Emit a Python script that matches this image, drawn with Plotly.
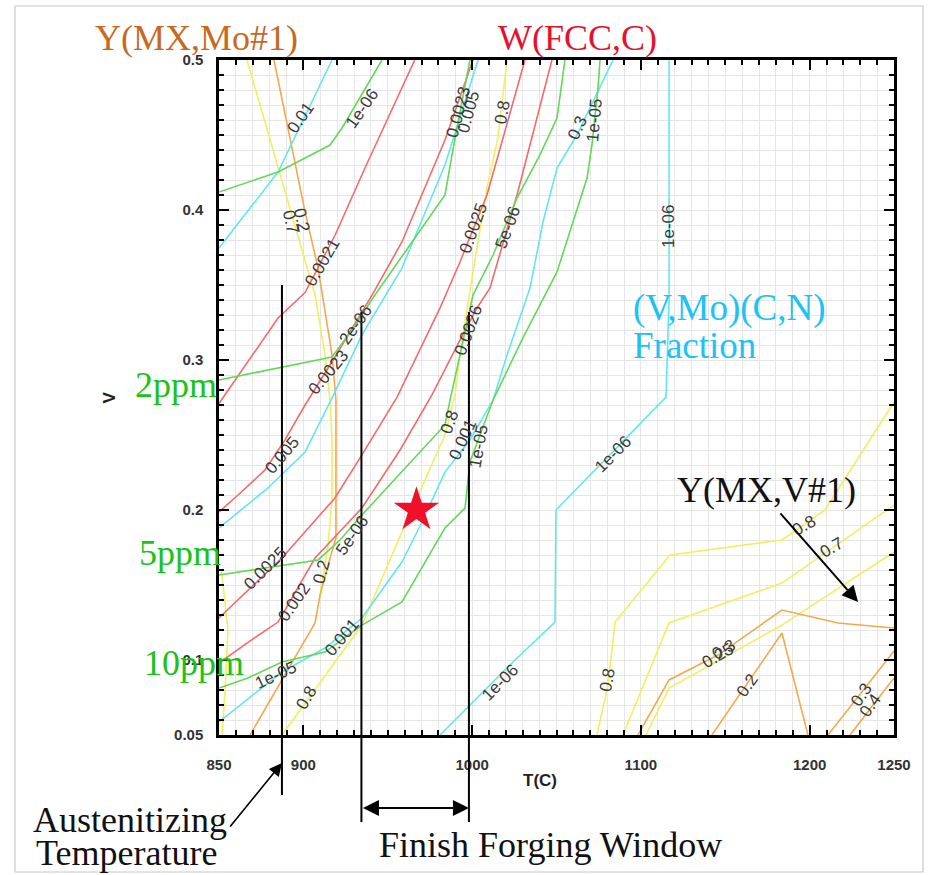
import plotly.graph_objects as go

# ---------------- data (T in C, V fraction) ----------------
red_lines = {
    "R1": ([966.0, 936.5, 918.7, 901.0, 885.0, 850.0],
           [0.500, 0.428, 0.383, 0.345, 0.328, 0.271]),
    "R2": ([1000.5, 983.9, 958.4, 940.7, 918.7, 901.0, 889.1, 877.3, 861.3, 850.0],
           [0.500, 0.4467, 0.3787, 0.3433, 0.302, 0.270, 0.2467, 0.2267, 0.210, 0.1987]),
    "R3": ([1031.3, 1008.8, 992.8, 981.0, 955.5, 934.7, 918.7, 887.3, 851.8, 850.0],
           [0.500, 0.410, 0.3653, 0.3347, 0.2753, 0.2367, 0.208, 0.168, 0.130, 0.128]),
    "R4": ([1047.3, 1026.6, 1010.6, 1002.9, 992.8, 976.2, 957.3, 934.7, 906.9, 885.0, 866.6, 850.0],
           [0.500, 0.410, 0.348, 0.3347, 0.3133, 0.2767, 0.240, 0.2013, 0.168, 0.1253, 0.1113, 0.098]),
}
cyan_lines = {
    "C1": ([917.0, 885.0, 850.0], [0.500, 0.4253, 0.3747]),
    "C2": ([1003.5, 983.9, 958.4, 934.7, 917.0, 901.0, 879.0, 861.3, 850.0],
           [0.500, 0.430, 0.3613, 0.3167, 0.2747, 0.2387, 0.2147, 0.1987, 0.188]),
    "C3": ([1083.5, 1062.1, 1050.3, 1042.0, 1034.3, 1020.7, 1012.4, 998.7, 983.9, 970.3, 958.4, 934.7, 912.8, 887.3, 850.0],
           [0.500, 0.450, 0.428, 0.392, 0.348, 0.3033, 0.2733, 0.2467, 0.2253, 0.192, 0.1653, 0.128, 0.108, 0.092, 0.0587]),
    "C4": ([1116.7, 1116.7, 1114.9, 1049.7, 1049.1, 1024.2, 981.0],
           [0.500, 0.340, 0.2753, 0.200, 0.1253, 0.0987, 0.050]),
}
green_lines = {
    "G1": ([946.6, 922.9, 915.8, 885.0, 850.0], [0.500, 0.4547, 0.4433, 0.4253, 0.412]),
    "G2": ([850.0, 917.0, 928.8, 942.4, 983.9, 989.9, 998.7],
           [0.2867, 0.302, 0.320, 0.3433, 0.410, 0.448, 0.500]),
    "G3": ([850.0, 908.7, 921.7, 934.7, 983.9, 986.9, 992.8, 1000.5, 1012.4, 1026.6, 1040.2, 1050.3, 1055.0],
           [0.1567, 0.1667, 0.180, 0.1967, 0.2567, 0.2733, 0.3033, 0.3433, 0.370, 0.408, 0.4367, 0.4613, 0.500]),
    "G4": ([1075.8, 1074.6, 1071.0, 1068.1, 1050.3, 1030.1, 1012.4, 998.7, 995.8, 983.9, 958.4, 934.7, 912.8, 887.3, 867.2, 850.0],
           [0.500, 0.4813, 0.4433, 0.4213, 0.3587, 0.3147, 0.2733, 0.232, 0.2013, 0.188, 0.1387, 0.1233, 0.1053, 0.0987, 0.088, 0.0813]),
}
yellow_lines = {
    "Y1": ([866.6, 893.3, 906.9, 912.8, 915.8, 917.0, 917.0, 914.6, 909.9],
           [0.500, 0.3967, 0.3433, 0.3033, 0.2733, 0.2467, 0.2067, 0.1767, 0.1433]),
    "Y2": ([851.2, 852.4, 855.3, 853.6, 851.8], [0.160, 0.150, 0.120, 0.080, 0.050]),
    "Y3": ([1020.7, 1015.3, 1008.8, 1000.5, 992.8, 989.9, 983.9, 962.0, 934.7, 887.3],
           [0.500, 0.448, 0.4147, 0.3587, 0.3033, 0.2767, 0.250, 0.1947, 0.1233, 0.050]),
    "Y4": ([1074.0, 1080.5, 1084.7, 1117.3, 1183.6, 1209.1, 1250.0],
           [0.050, 0.0833, 0.1253, 0.170, 0.180, 0.200, 0.272]),
    "Y5": ([1089.4, 1116.7, 1183.6, 1201.4, 1250.0], [0.050, 0.1247, 0.1513, 0.1653, 0.2033]),
    "Y6": ([1103.0, 1116.7, 1183.6, 1250.0], [0.050, 0.0813, 0.1233, 0.172]),
}
orange_lines = {
    "O1": ([882.6, 901.0, 908.7, 917.0, 919.3, 919.3, 915.8, 909.9, 906.9, 868.4],
           [0.500, 0.3987, 0.3613, 0.3033, 0.2733, 0.1813, 0.168, 0.1433, 0.1247, 0.050]),
    "O2": ([1098.3, 1116.7, 1145.7, 1183.6, 1216.8, 1250.0], [0.050, 0.0867, 0.1033, 0.1333, 0.1247, 0.1213]),
    "O3": ([1142.1, 1183.6, 1199.0], [0.050, 0.118, 0.050]),
    "O4": ([1210.9, 1250.0], [0.050, 0.106]),
    "O5": ([1223.9, 1250.0], [0.050, 0.088]),
}

label_text = ["0.01", "1e-06", "0.7", "0.2", "0.0021", "2e-06", "0.0023", "0.005", "0.0025",
              "0.002", "0.2", "5e-06", "0.001", "1e-05", "0.8", "0.0023", "0.005", "0.8", "0.3",
              "1e-05", "0.0025", "5e-06", "0.0026", "0.8", "0.001", "1e-05", "1e-06", "1e-06",
              "1e-06", "0.8", "0.25", "0.3", "0.2", "0.3", "0.4", "0.8", "0.7"]
label_T = [898.0, 934.7, 892.7, 899.2, 911.0, 930.6, 914.6, 887.9, 877.3,
           895.0, 911.0, 928.8, 922.9, 883.2, 902.1, 991.6, 997.6, 1017.7, 1062.7,
           1072.2, 1000.5, 1020.7, 997.6, 986.9, 994.6, 1003.5, 1116.7, 1083.5,
           1016.5, 1080.5, 1145.7, 1149.3, 1162.9, 1231.0, 1235.8, 1196.7, 1213.3]
label_V = [0.4613, 0.468, 0.392, 0.3933, 0.3653, 0.3233, 0.292, 0.2367, 0.1613,
           0.1387, 0.1587, 0.1833, 0.1147, 0.090, 0.0747, 0.4653, 0.4653, 0.4653, 0.4547,
           0.460, 0.388, 0.388, 0.320, 0.2587, 0.2467, 0.242, 0.3887, 0.2367,
           0.0853, 0.0867, 0.1033, 0.1067, 0.0833, 0.0767, 0.070, 0.190, 0.1747]
label_angle = [-55, -55, 78, 78, -60, -55, -50, -50, -45,
               -55, -75, -55, -50, -25, -60, -75, -75, -80, -65,
               -85, -70, -70, -70, -70, -65, -80, -90, -45,
               -45, -80, -30, -30, -55, -55, -55, -30, -30]

star_T = [967.0]
star_V = [0.200]

austenitizing_T = 887.3
forging_T = [934.4, 998.1]

x_tickvals = [850, 900, 1000, 1100, 1200, 1250]
y_tickvals = [0.05, 0.1, 0.2, 0.3, 0.4, 0.5]
y_ticktext = ["0.05", "0.1", "0.2", "0.3", "0.4", "0.5"]

# ---------------- figure ----------------
fig = go.Figure()

colors = {
    "red": "#f46a6a",
    "cyan": "#62e6f2",
    "green": "#62d85a",
    "yellow": "#f3ee5e",
    "orange": "#f2aa4c",
}
for group, col in [(yellow_lines, colors["yellow"]), (orange_lines, colors["orange"]),
                   (red_lines, colors["red"]), (cyan_lines, colors["cyan"]),
                   (green_lines, colors["green"])]:
    for name, (xs, ys) in group.items():
        fig.add_trace(go.Scatter(x=xs, y=ys, mode="lines", name=name,
                                 line=dict(color=col, width=1.6), hoverinfo="skip"))

fig.add_trace(go.Scatter(x=star_T, y=star_V, mode="markers",
                         marker=dict(symbol="star", size=34, color="#f0102a",
                                     line=dict(width=0)), hoverinfo="skip"))

annotations = []
for t, x, y, a in zip(label_text, label_T, label_V, label_angle):
    annotations.append(dict(x=x, y=y, xref="x", yref="y", text=t, showarrow=False,
                            textangle=a, font=dict(family="Liberation Sans", size=17, color="#3a3a3a")))

def P(px, py):
    return (px - 219) / 675.0, (735 - py) / 675.0

serif = "Liberation Serif"
def txt(text, px, py, color, size, anchor="center"):
    x, y = P(px, py)
    annotations.append(dict(x=x, y=y, xref="paper", yref="paper", text=text, showarrow=False,
                            xanchor=anchor, yanchor="middle",
                            font=dict(family=serif, size=size, color=color)))

txt("Y(MX,Mo#1)", 196, 38, "#c8691f", 36)
txt("W(FCC,C)", 577, 38, "#e8102e", 36)
txt("(V,Mo)(C,N)", 631, 308, "#1ec3f5", 37, "left")
txt("Fraction", 631, 345, "#1ec3f5", 37, "left")
txt("2ppm", 219, 385, "#19c319", 36, "right")
txt("5ppm", 223, 553, "#19c319", 36, "right")
txt("10ppm", 246, 663, "#19c319", 36, "right")
txt("Y(MX,V#1)", 675, 490, "#111111", 36, "left")
txt("Austenitizing", 31, 820, "#111111", 36, "left")
txt("Temperature", 34, 853, "#111111", 36, "left")
txt("Finish Forging Window", 377, 845, "#111111", 36, "left")

# axis titles
x, y = P(540, 792)
annotations.append(dict(x=x, y=y, xref="paper", yref="paper", text="<b>T(C)</b>", showarrow=False,
                        font=dict(family="Liberation Sans", size=17, color="#222")))
x, y = P(97, 398)
annotations.append(dict(x=x, y=y, xref="paper", yref="paper", text="<b>V</b>", showarrow=False,
                        textangle=-90, font=dict(family="Liberation Sans", size=17, color="#222")))

# arrows
_, ya = P(0, 763)
annotations.append(dict(x=austenitizing_T, y=ya, xref="x", yref="paper", text="", showarrow=True,
                        ax=-53, ay=65, arrowhead=2, arrowsize=1.6, arrowwidth=1.6, arrowcolor="black"))
_, yf = P(0, 808)
annotations.append(dict(x=forging_T[1], y=yf, xref="x", yref="paper", text="", showarrow=True,
                        axref="x", ax=forging_T[0], ayref="pixel", ay=0,
                        arrowhead=2, startarrowhead=2, arrowside="end+start",
                        arrowsize=1.6, startarrowsize=1.6, arrowwidth=2, arrowcolor="black",
                        standoff=0, startstandoff=0))
annotations.append(dict(x=1228.7, y=0.1387, xref="x", yref="y", text="", showarrow=True,
                        ax=-79, ay=-90, arrowhead=2, arrowsize=1.6, arrowwidth=2, arrowcolor="black"))

shapes = []
_, y_a0 = P(0, 285)
_, y_a1 = P(0, 795)
shapes.append(dict(type="line", xref="x", yref="paper", x0=austenitizing_T, x1=austenitizing_T,
                   y0=y_a0, y1=y_a1, line=dict(color="black", width=2)))
_, y_f0 = P(0, 312)
_, y_f1 = P(0, 822)
for tv in forging_T:
    shapes.append(dict(type="line", xref="x", yref="paper", x0=tv, x1=tv,
                       y0=y_f0, y1=y_f1, line=dict(color="black", width=2)))
bx0, by0 = P(15, 872)
bx1, by1 = P(923, 6)
shapes.append(dict(type="rect", xref="paper", yref="paper", x0=bx0, x1=bx1, y0=by0, y1=by1,
                   line=dict(color="#c8c8c8", width=1.2), layer="below"))

fig.update_layout(
    width=932, height=875,
    margin=dict(l=219, r=38, t=60, b=140),
    paper_bgcolor="white", plot_bgcolor="white",
    showlegend=False,
    annotations=annotations, shapes=shapes,
    xaxis=dict(range=[850, 1250], tickvals=x_tickvals, ticks="inside", ticklen=10, tickwidth=2,
               tickcolor="black", showline=True, linecolor="black", linewidth=2.5, mirror="ticks",
               showgrid=True, gridcolor="#e6e6e6", gridwidth=1, zeroline=False,
               ticklabelstandoff=14,
               tickfont=dict(family="Liberation Sans", size=15, color="#333", weight="bold"),
               minor=dict(dtick=10, ticks="inside", ticklen=5, tickwidth=1.5, tickcolor="black",
                          showgrid=True, gridcolor="#e6e6e6", gridwidth=1)),
    yaxis=dict(range=[0.05, 0.5], tickvals=y_tickvals, ticktext=y_ticktext, ticks="inside",
               ticklen=10, tickwidth=2, tickcolor="black", showline=True, linecolor="black",
               linewidth=2.5, mirror="ticks", showgrid=True, gridcolor="#e6e6e6", gridwidth=1,
               zeroline=False, ticklabelstandoff=10,
               tickfont=dict(family="Liberation Sans", size=15, color="#333", weight="bold"),
               minor=dict(dtick=0.01, ticks="inside", ticklen=5, tickwidth=1.5, tickcolor="black",
                          showgrid=True, gridcolor="#e6e6e6", gridwidth=1)),
)

fig.write_html("out.html", config={"displayModeBar": False},
               post_script="document.body.style.margin='0px';")
